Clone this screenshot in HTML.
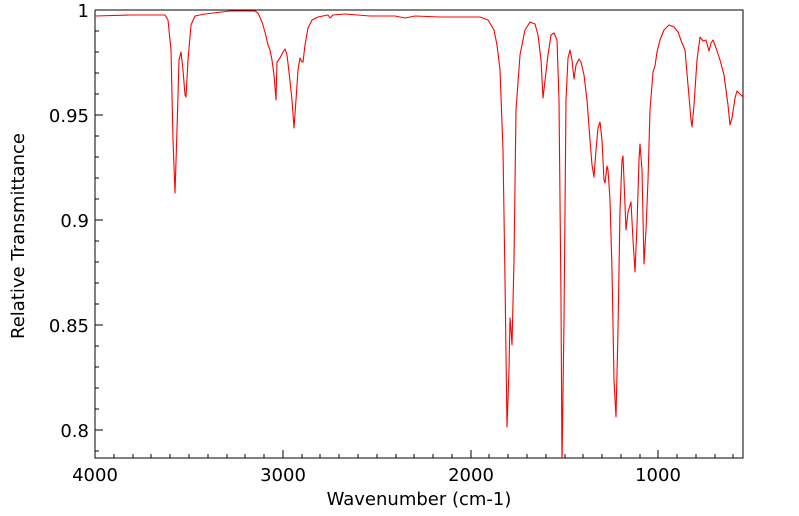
<!DOCTYPE html>
<html><head><style>body{margin:0;background:#fff}svg{display:block}text{font-family:"DejaVu Sans","Liberation Sans",sans-serif;fill:#000}</style></head><body>
<svg width="799" height="516" viewBox="0 0 799 516" xmlns="http://www.w3.org/2000/svg">
<rect x="0" y="0" width="799" height="516" fill="#fff"/>
<g stroke="#000" stroke-width="1">
<path d="M95,10 V458 H743 V10 H95" fill="none"/>
<path d="M95,10h8M95,115h8M95,220h8M95,325h8M95,430h8"/>
<path d="M95,31h4M95,52h4M95,73h4M95,94h4M95,136h4M95,157h4M95,178h4M95,199h4M95,241h4M95,262h4M95,283h4M95,304h4M95,346h4M95,367h4M95,388h4M95,409h4M95,451h4"/>
<path d="M283,458v-8M471,458v-8M658,458v-8"/>
<path d="M114,458v-4M133,458v-4M151,458v-4M170,458v-4M189,458v-4M208,458v-4M227,458v-4M245,458v-4M264,458v-4M302,458v-4M320,458v-4M339,458v-4M358,458v-4M377,458v-4M396,458v-4M414,458v-4M433,458v-4M452,458v-4M489,458v-4M508,458v-4M527,458v-4M546,458v-4M565,458v-4M583,458v-4M602,458v-4M621,458v-4M640,458v-4M677,458v-4M696,458v-4M715,458v-4M733,458v-4"/>
</g>
<g font-size="18" text-anchor="end">
<text x="89" y="17">1</text>
<text x="89" y="122">0.95</text>
<text x="89" y="227">0.9</text>
<text x="89" y="332">0.85</text>
<text x="89" y="437">0.8</text>
</g>
<g font-size="18" text-anchor="middle">
<text x="95" y="481">4000</text>
<text x="283" y="481">3000</text>
<text x="471" y="481">2000</text>
<text x="658" y="481">1000</text>
<text x="419" y="505">Wavenumber (cm-1)</text>
<text transform="translate(24,236) rotate(-90)">Relative Transmittance</text>
</g>
<svg x="95" y="10" width="648" height="448" viewBox="95 10 648 448" overflow="hidden">
<polyline fill="none" stroke="#f00" stroke-width="1.1" stroke-linejoin="round" points="95,16 130,15 165,15 168,20 171,50 173,140 175,193 177,130 179,60 181,52 183,70 185,95 186,97 188,60 191,25 195,16 205,14 230,11 255,11 258,13 262,22 265,32 268,45 270,50 272,60 274,75 276,100 277,62 280,58 283,52 285,49 287,55 289,72 292,100 294,128 296,100 298,70 300,58 302,62 303,62 305,45 308,28 312,20 318,17 328,15 330,18 333,15 345,14 370,16 395,16 405,18 415,16 440,17 480,17 488,20 494,30 497,45 500,70 503,150 505,280 507,427 509,370 510,318 511,330 512,345 514,260 516,110 520,55 525,30 530,22 535,24 538,35 541,60 543,98 546,72 548,55 551,35 554,33 557,40 559,100 561,300 562,465 564,320 566,100 568,58 570,50 572,60 574,79 576,65 579,59 581,62 584,75 587,100 590,140 592,165 594,177 596,150 598,128 600,122 602,140 604,180 605,183 607,166 608,170 610,200 612,270 614,380 616,417 618,330 620,210 622,160 623,156 624,180 626,230 628,212 631,202 633,240 635,272 637,225 639,160 640,144 642,170 644,264 646,230 648,180 650,110 653,72 655,66 657,52 660,40 664,30 669,25 674,27 678,32 682,43 685,50 688,85 691,120 692,127 694,105 697,60 700,37 703,41 706,40 709,51 711,43 713,40 716,48 720,60 724,75 728,105 730,125 732,118 735,98 737,91 740,94 743,97"/>
</svg>
</svg>
</body></html>
